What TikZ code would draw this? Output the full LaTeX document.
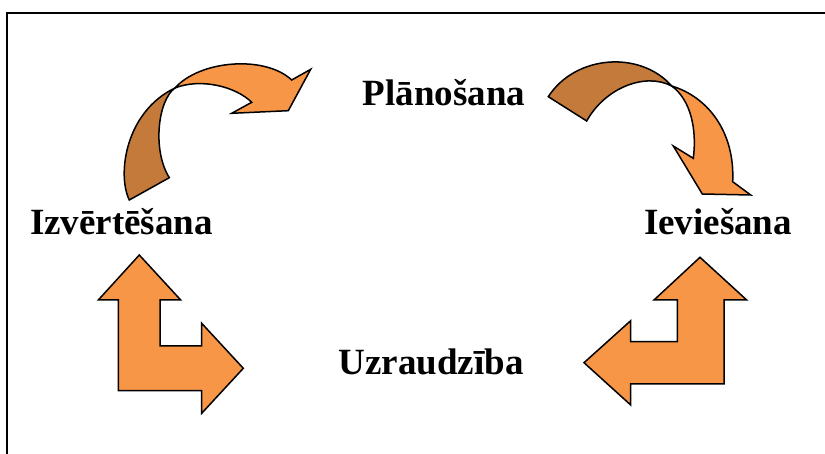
\documentclass[tikz,border=0pt]{standalone}
\usepackage{fontspec}
\setmainfont{Liberation Serif}
\usepackage{xcolor}
\usetikzlibrary{positioning}
\definecolor{oranzs}{HTML}{F79646}
\definecolor{tumss}{HTML}{C47A3A}
\tikzstyle{posms} = [font=\fontsize{37}{44}\selectfont\bfseries, inner sep=0pt, anchor=base]
\tikzstyle{bulta} = [draw=black, line width=1.5pt, line join=miter, fill=oranzs]
\tikzstyle{ena} = [bulta, fill=tumss]
\tikzstyle{ramis} = [draw=black, line width=2.5pt]

\begin{document}
\begin{tikzpicture}[x=1pt, y=-1pt]

    \useasboundingbox (0,0) rectangle (825,454);
    \draw [ramis] (7,454) -- (7,13) -- (825,13);

    % Posmi
    \node (plan) [posms] at (444,106) {Plānošana};
    \node (izv) [posms] at (121.5,235) {Izvērtēšana};
    \node (iev) [posms] at (718,235) {Ieviešana};
    \node (uzr) [posms] at (431,375) {Uzraudzība};

    % Bulta augšā pa kreisi
    \draw [ena] (129.3,200) .. controls (117,175) and (125,112) .. (175,88)
        .. controls (158,100) and (152,150) .. (169.3,177.7) -- cycle;
    \draw [bulta] (175,88) .. controls (200,60) and (265,55) .. (291.7,80)
        -- (310.7,69.3) -- (288.3,110.7) -- (231.7,113.3) -- (251.7,102.3)
        .. controls (235,86) and (200,78) .. (175,88) -- cycle;

    % Bulta augšā pa labi
    \draw [ena] (548.3,96.7) .. controls (575,55) and (640,50) .. (671.7,86)
        .. controls (645,72) and (605,88) .. (586.7,121) -- cycle;
    \draw [bulta] (671.7,86) .. controls (708,97) and (735,132) .. (732.7,181.7)
        -- (750.7,195) -- (702.3,194) -- (673.3,146) -- (693.3,158.3)
        .. controls (697,130) and (691,100) .. (671.7,86) -- cycle;

    % Bulta apakšā pa kreisi
    \draw [bulta] (139.3,255) -- (180.7,300) -- (160,300) -- (160,346)
        -- (201.7,346) -- (201.7,323.3) -- (243.3,368.3) -- (201.7,413.3)
        -- (201.7,390.7) -- (118.3,390.7) -- (118.3,300) -- (98.3,300) -- cycle;

    % Bulta apakšā pa labi
    \draw [bulta] (700,257.3) -- (746.7,300) -- (724,300) -- (724,384)
        -- (630.7,384) -- (630.7,405) -- (584,362.7) -- (630.7,320.7)
        -- (630.7,341.7) -- (677.3,341.7) -- (677.3,300) -- (654,300) -- cycle;

\end{tikzpicture}
\end{document}
